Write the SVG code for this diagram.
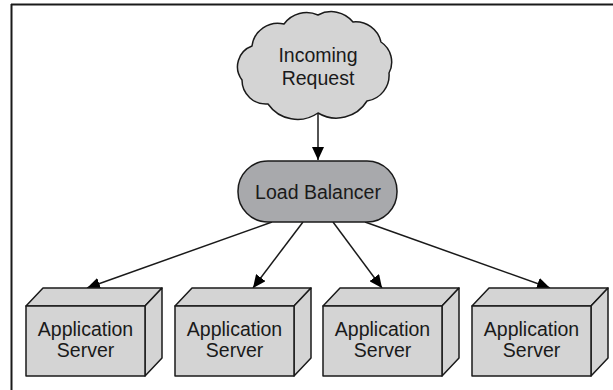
<svg xmlns="http://www.w3.org/2000/svg" width="613" height="390" viewBox="0 0 613 390">
<style>
.lbl{font-family:"Liberation Sans",Arial,sans-serif;font-size:19.5px;fill:#1a1a1a;text-anchor:middle}
.shape{stroke:#1a1a1a;stroke-width:1.5;stroke-linejoin:round}
.box{fill:#d4d4d4}
.conn{stroke:#1a1a1a;stroke-width:1.5;fill:none}
</style>
<defs>
<marker id="ah" markerUnits="userSpaceOnUse" markerWidth="14" markerHeight="12" refX="13" refY="6" orient="auto">
<path d="M0,0 L13,6 L0,12 Z" fill="#000"/>
</marker>
</defs>
<rect width="613" height="390" fill="#fff"/>
<g id="frame">
<line x1="11" y1="4.5" x2="613" y2="4.5" stroke="#1a1a1a" stroke-width="2"/>
<line x1="11.5" y1="4" x2="11.5" y2="390" stroke="#1a1a1a" stroke-width="2"/>
</g>
<g id="connectors">
<line class="conn" x1="318" y1="113" x2="318" y2="160" marker-end="url(#ah)"/>
<line class="conn" x1="272" y1="222" x2="87" y2="288" marker-end="url(#ah)"/>
<line class="conn" x1="303" y1="222" x2="253" y2="288" marker-end="url(#ah)"/>
<line class="conn" x1="333" y1="222" x2="382" y2="288" marker-end="url(#ah)"/>
<line class="conn" x1="365" y1="222" x2="550" y2="288" marker-end="url(#ah)"/>
</g>
<g id="incoming">
<path class="shape" fill="#d4d4d4" d="M252,46 A26,26 0 0 1 284,24 A28,28 0 0 1 318,15 A28,28 0 0 1 353,22 A26,26 0 0 1 381,42 A24,24 0 0 1 389,73 A26,26 0 0 1 367,101 A36,36 0 0 1 318,113 A36,36 0 0 1 268,104 A24,24 0 0 1 242,80 A22,22 0 0 1 252,46 Z"/>
<text class="lbl" x="318" y="62">Incoming</text>
<text class="lbl" x="318" y="85">Request</text>
</g>
<g id="loadbalancer">
<rect class="shape" x="238" y="161" width="159" height="61" rx="30" ry="30" fill="#a8a9ac"/>
<text class="lbl" x="318" y="199">Load Balancer</text>
</g>
<g id="server1">
<polygon class="shape box" points="26,306 43,288 162,288 145,306"/>
<polygon class="shape box" points="145,306 162,288 162,358 145,376"/>
<rect class="shape box" x="26" y="306" width="119" height="70"/>
<text class="lbl" x="85.5" y="336">Application</text>
<text class="lbl" x="85.5" y="357">Server</text>
</g>
<g id="server2">
<polygon class="shape box" points="175,306 192,288 311,288 294,306"/>
<polygon class="shape box" points="294,306 311,288 311,358 294,376"/>
<rect class="shape box" x="175" y="306" width="119" height="70"/>
<text class="lbl" x="234.5" y="336">Application</text>
<text class="lbl" x="234.5" y="357">Server</text>
</g>
<g id="server3">
<polygon class="shape box" points="323,306 340,288 459,288 442,306"/>
<polygon class="shape box" points="442,306 459,288 459,358 442,376"/>
<rect class="shape box" x="323" y="306" width="119" height="70"/>
<text class="lbl" x="382.5" y="336">Application</text>
<text class="lbl" x="382.5" y="357">Server</text>
</g>
<g id="server4">
<polygon class="shape box" points="472,306 489,288 608,288 591,306"/>
<polygon class="shape box" points="591,306 608,288 608,358 591,376"/>
<rect class="shape box" x="472" y="306" width="119" height="70"/>
<text class="lbl" x="531.5" y="336">Application</text>
<text class="lbl" x="531.5" y="357">Server</text>
</g>
</svg>
